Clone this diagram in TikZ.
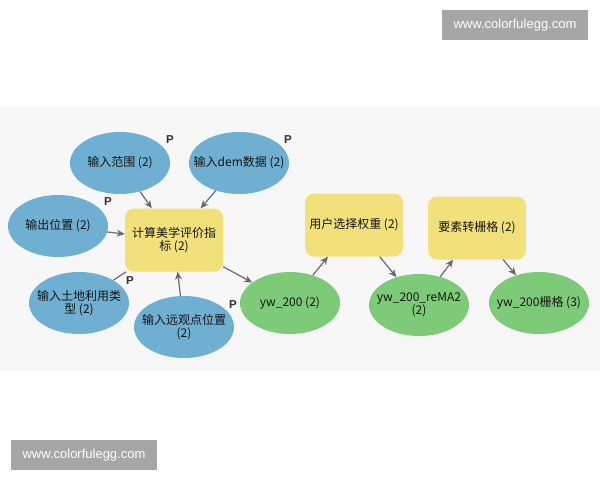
\documentclass[tikz,border=0pt]{standalone}
\usepackage{fontspec}
\setmainfont{Liberation Sans}
\newfontfamily\cjk{Noto Sans CJK SC}
\usepackage{tikz}
\usetikzlibrary{arrows.meta,shapes.geometric}

\definecolor{inblue}{HTML}{6FAFD2}
\definecolor{toolyellow}{HTML}{F2E17A}
\definecolor{outgreen}{HTML}{7DCB78}
\definecolor{linkgray}{HTML}{6A6A6A}
\definecolor{bandgray}{HTML}{F7F7F7}
\definecolor{markgray}{HTML}{A6A6A6}

\begin{document}
\begin{tikzpicture}[x=1pt,y=-1pt,>={Stealth[length=8pt,width=7pt]}]
  \tikzstyle{every node}=[font=\cjk\fontsize{12}{13.5}\selectfont,align=center,text=black!92]
  \tikzstyle{data}=[ellipse,fill=inblue,minimum width=100pt,minimum height=62pt,inner xsep=-10pt,inner ysep=0pt]
  \tikzstyle{derived}=[data,fill=outgreen]
  \tikzstyle{tool}=[rectangle,rounded corners=9pt,fill=toolyellow,minimum width=98pt,minimum height=63pt,inner sep=2pt]
  \tikzstyle{param}=[font=\bfseries\fontsize{11.5}{11.5}\selectfont,text=black!80]
  \tikzstyle{watermark}=[fill=markgray,text=white,font=\fontsize{13}{13}\selectfont,minimum width=146pt,minimum height=30pt]

  \useasboundingbox (0,0) rectangle (600,480);
  \fill[white] (0,0) rectangle (600,480);
  \fill[bandgray] (0,107) rectangle (600,371);

  % input data
  \node[data] (range)   at (120,163) {输入范围 (2)};
  \node[data] (dem)     at (239,163) {输入dem数据 (2)};
  \node[data] (outpos)  at (58,226)  {输出位置 (2)};
  \node[data] (landuse) at (79,303)  {输入土地利用类\\型 (2)};
  \node[data] (view)    at (184,327) {输入远观点位置\\(2)};

  % tools and outputs
  \node[tool]    (calc)   at (174,240) {计算美学评价指\\标 (2)};
  \node[derived] (yw)     at (290,303) {yw\_200 (2)};
  \node[tool]    (weight) at (354,225) {用户选择权重 (2)};
  \node[derived] (rema)   at (419,305) {yw\_200\_reMA2\\(2)};
  \node[tool]    (torast) at (477,228) {要素转栅格 (2)};
  \node[derived] (grid)   at (539,303) {yw\_200栅格 (3)};

  \node[param] (p1) at (170,140) {P};
  \node[param] (p2) at (288,140) {P};
  \node[param] (p3) at (108,202) {P};
  \node[param] (p4) at (130,281) {P};
  \node[param] (p5) at (233,305) {P};

  \path[->,draw=linkgray,line width=1.2pt]
        (range)   edge (calc)
        (dem)     edge (calc)
        (outpos)  edge (calc)
        (landuse) edge [-] (calc)
        (view)    edge (calc)
        (calc)    edge (yw)
        (yw)      edge (weight)
        (weight)  edge (rema)
        (rema)    edge (torast)
        (torast)  edge (grid);

  \node[watermark] (m1) at (515,25)  {www.colorfulegg.com};
  \node[watermark] (m2) at (84,455)  {www.colorfulegg.com};
\end{tikzpicture}
\end{document}
